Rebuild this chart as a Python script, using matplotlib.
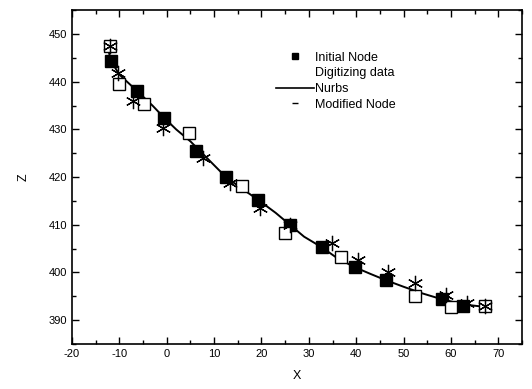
import matplotlib
matplotlib.use("Agg")
from matplotlib import pyplot as plt
from matplotlib.lines import Line2D
from matplotlib.ticker import MultipleLocator

plt.rcParams['font.family'] = ['Liberation Sans', 'DejaVu Sans']
plt.rcParams['axes.unicode_minus'] = False

# initial control nodes (filled squares)
init_x = [-11.8, -6.3, -0.6, 6.1, 12.5, 19.2, 26.0, 32.7, 39.7, 46.2, 58.0, 62.6]
init_z = [444.4, 438.1, 432.5, 425.4, 420.0, 415.3, 409.9, 405.3, 401.1, 398.4, 394.4, 392.9]

# digitizing data (open squares)
dig_x = [-12.0, -10.1, -4.8, 4.7, 15.8, 24.9, 36.7, 52.3, 60.1, 67.1]
dig_z = [447.5, 439.6, 435.4, 429.3, 418.2, 408.2, 403.2, 395.0, 392.7, 392.9]

# modified nodes (asterisks)
mod_x = [-12.0, -10.3, -7.1, -0.8, 7.6, 13.3, 19.6, 26.0, 34.8, 40.3, 46.6, 52.3, 59.0, 63.3, 67.1]
mod_z = [447.5, 441.9, 436.0, 430.4, 424.1, 418.7, 413.6, 409.9, 406.1, 402.6, 400.0, 397.7, 395.2, 393.6, 392.9]

# nurbs curve
nurbs_x = [-12.5, -11.8, -10, -6.3, -3, -0.6, 2, 5, 8, 12.5, 16, 19.2, 23, 26, 29,
           32.7, 36, 39.7, 43, 46.2, 50, 54, 58, 62.6, 67]
nurbs_z = [447.5, 444.4, 441.5, 438.1, 435, 432.5, 430, 427.5, 424.5, 420, 417.5, 415.3,
           412.5, 410, 407.5, 405.3, 403, 401.1, 399.7, 398.4, 397, 395.6, 394.4, 393.3, 392.8]

fig = plt.figure(figsize=(5.32, 3.89), dpi=100)
ax = fig.add_axes([0.1353, 0.1157, 0.846, 0.858])

ax.plot(nurbs_x, nurbs_z, color='k', lw=1.4, zorder=2)
ax.plot(init_x, init_z, 's', color='k', ms=8.5, zorder=3)
ax.plot(dig_x, dig_z, 's', mfc='white', mec='k', mew=1.0, ms=8.5, zorder=4)
ax.plot(mod_x, mod_z, ls='none', marker=(6, 2, 0), color='k', mew=0.9, ms=11, zorder=5)

ax.set_xlim(-20, 75)
ax.set_ylim(385, 455)
ax.xaxis.set_major_locator(MultipleLocator(10))
ax.xaxis.set_minor_locator(MultipleLocator(5))
ax.yaxis.set_major_locator(MultipleLocator(10))
ax.yaxis.set_minor_locator(MultipleLocator(5))
ax.tick_params(which='both', direction='in', top=True, right=True, labelsize=8)
ax.tick_params(which='major', length=5, width=1)
ax.tick_params(which='minor', length=3, width=1)
for s in ax.spines.values():
    s.set_linewidth(1.2)

ax.set_xlabel("X", fontsize=9, labelpad=8)
ax.set_ylabel("Z", fontsize=9, labelpad=14)

handles = [
    Line2D([], [], ls='none', marker='s', color='k', ms=4),
    Line2D([], [], ls='none'),
    Line2D([], [], color='k', lw=1.2),
    Line2D([], [], ls='none', marker='_', color='k', ms=4),
]
labels = ["Initial Node", "Digitizing data", "Nurbs", "Modified Node"]
ax.legend(handles, labels, loc='upper left', bbox_to_anchor=(0.429, 0.91), frameon=False,
          fontsize=9, handlelength=3.0, handletextpad=0.1, labelspacing=0.3)

fig.savefig("out.png", dpi=100)
